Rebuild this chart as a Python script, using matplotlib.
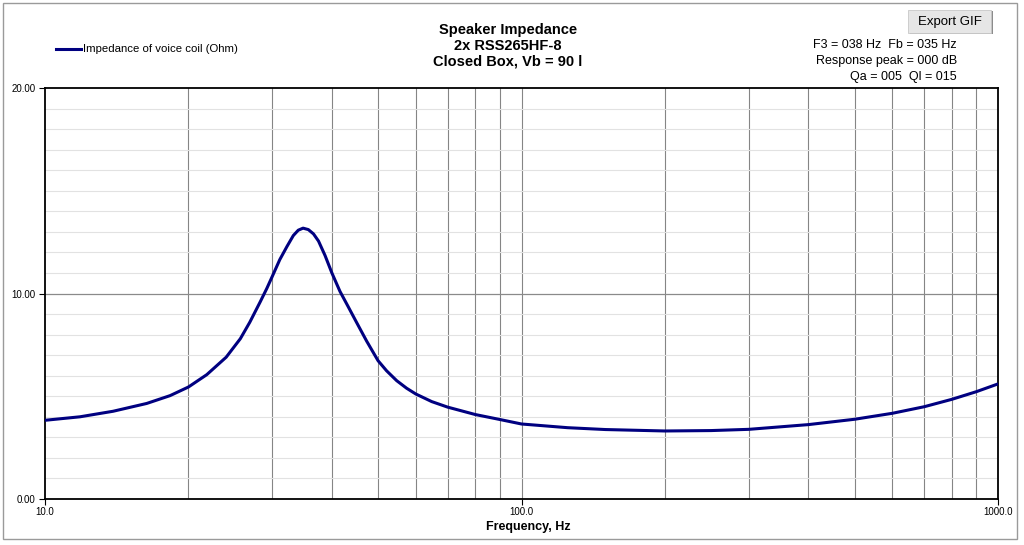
import matplotlib
matplotlib.use("Agg")
import matplotlib.pyplot as plt
from matplotlib.patches import Rectangle
from matplotlib.ticker import FixedLocator, MultipleLocator, FuncFormatter

plt.rcParams['font.family'] = ['Liberation Sans', 'DejaVu Sans']

# impedance curve
freq = [10, 11.84, 13.9, 16.35, 18.3, 20, 21.85, 24.0, 25.7, 26.9, 28.3, 29.2,
        30, 31.1, 32.2, 33.2, 34.0, 34.8, 35.7, 36.6, 37.5, 38.7, 40, 41.6,
        43.3, 45.1, 47.3, 50, 52.1, 54.7, 57.4, 60, 64.8, 70, 80, 90, 100, 125,
        150, 200, 250, 300, 400, 500, 600, 700, 800, 900, 1000]
impedance = [3.83, 4.0, 4.27, 4.65, 5.03, 5.45, 6.05, 6.9, 7.8, 8.6, 9.6,
             10.24, 10.84, 11.65, 12.29, 12.82, 13.08, 13.18, 13.11, 12.9,
             12.55, 11.85, 11.0, 10.1, 9.35, 8.58, 7.69, 6.73, 6.24, 5.76, 5.39,
             5.11, 4.74, 4.47, 4.11, 3.87, 3.65, 3.47, 3.38, 3.31, 3.33, 3.39,
             3.62, 3.88, 4.17, 4.49, 4.85, 5.22, 5.6]

x_major = [10, 100, 1000]
x_grid = [20, 30, 40, 50, 60, 70, 80, 90, 100, 200, 300, 400, 500, 600, 700, 800, 900]
y_major = [0, 10, 20]

title_lines = "Speaker Impedance\n2x RSS265HF-8\nClosed Box, Vb = 90 l"
info_lines = ["F3 = 038 Hz  Fb = 035 Hz", "Response peak = 000 dB", "Qa = 005  Ql = 015"]
legend_label = "Impedance of voice coil (Ohm)"

W, H = 1024, 545
fig = plt.figure(figsize=(W / 100, H / 100), dpi=100)
fig.patch.set_facecolor("white")

# chart frame
fig.patches.append(Rectangle((3 / W, 1 - 539 / H), 1014 / W, 536 / H,
                             transform=fig.transFigure, fill=False,
                             edgecolor="#9a9a9a", linewidth=1.0))

ax = fig.add_axes([45 / W, 1 - 499 / H, 953 / W, 411 / H])
ax.set_xscale("log")
ax.set_xlim(10, 1000)
ax.set_ylim(0, 20)

# grid
for f in x_grid:
    ax.axvline(f, color="#858585", linewidth=0.8, zorder=1)
ax.yaxis.set_minor_locator(MultipleLocator(1))
ax.grid(which="minor", axis="y", color="#e2e2e2", linewidth=0.8, zorder=0)
ax.axhline(10, color="#8a8a8a", linewidth=0.9, zorder=1)

ax.plot(freq, impedance, color="#000080", linewidth=2.2, zorder=3,
        solid_capstyle="round", solid_joinstyle="round")

ax.xaxis.set_major_locator(FixedLocator(x_major))
ax.xaxis.set_minor_locator(FixedLocator([]))
ax.xaxis.set_major_formatter(FuncFormatter(lambda v, p: f"{v:.1f}"))
ax.yaxis.set_major_locator(FixedLocator(y_major))
ax.yaxis.set_major_formatter(FuncFormatter(lambda v, p: f"{v:.2f}"))
ax.tick_params(axis="both", which="major", length=4, width=0.8, labelsize=7,
               colors="black", pad=3)
ax.tick_params(axis="y", which="minor", length=0)
ax.tick_params(axis="x", pad=2)
for s in ax.spines.values():
    s.set_linewidth(1.3)
    s.set_color("black")

fig.text(528 / W, 1 - 527 / H, "Frequency, Hz", ha="center", va="center",
         fontsize=9, fontweight="bold")

# title and annotations
fig.text(508 / W, 1 - 46 / H, title_lines, ha="center", va="center",
         fontsize=10.5, fontweight="bold", linespacing=1.15)

for i, line in enumerate(info_lines):
    fig.text(957 / W, 1 - (45 + 16 * i) / H, line, ha="right", va="center",
             fontsize=9)

# legend
fig.lines.append(plt.Line2D([56 / W, 81 / W], [1 - 49 / H, 1 - 49 / H],
                            transform=fig.transFigure, color="#000080",
                            linewidth=2.2))
fig.text(83 / W, 1 - 49 / H, legend_label, ha="left", va="center",
         fontsize=8.2)

# export button
fig.patches.append(Rectangle((910 / W, 1 - 34 / H), 83 / W, 23 / H,
                             transform=fig.transFigure, facecolor="#8c8c8c",
                             edgecolor="none"))
fig.patches.append(Rectangle((908 / W, 1 - 33 / H), 83 / W, 23 / H,
                             transform=fig.transFigure, facecolor="#e6e6e6",
                             edgecolor="#c8c8c8", linewidth=0.6))
fig.text(949.5 / W, 1 - 22 / H, "Export GIF", ha="center", va="center",
         fontsize=9.5)

fig.savefig("out.png", dpi=100)
